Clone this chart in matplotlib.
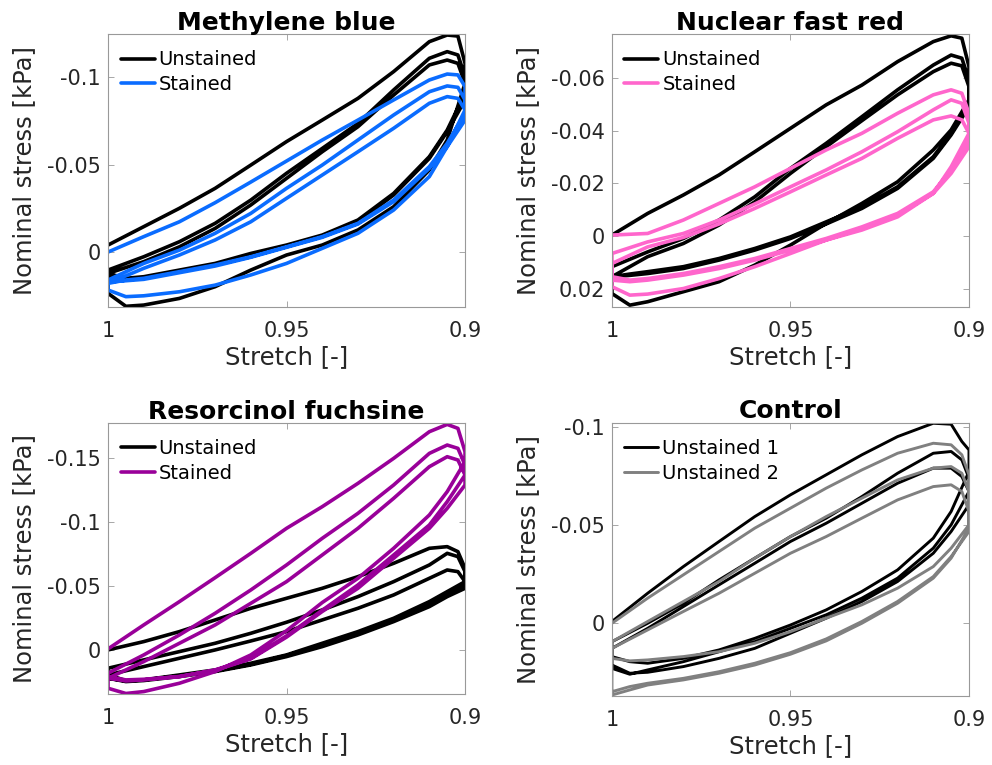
import numpy as np
import matplotlib
matplotlib.use("Agg")
import matplotlib.pyplot as plt

# stretch grid: loading goes 1 -> 0.9, unloading goes back 0.9 -> 1
XL = [1.000, 0.990, 0.980, 0.970, 0.960, 0.950, 0.940, 0.930, 0.920, 0.910, 0.905, 0.902, 0.900]
XU = [0.900, 0.905, 0.910, 0.920, 0.930, 0.940, 0.950, 0.960, 0.970, 0.980, 0.990, 0.995, 1.000]

# ---- Methylene blue (kPa), three cycles each
MB_UNST_LOAD = [
    [-0.004, -0.0145, -0.025, -0.0364, -0.0497, -0.0631, -0.0754, -0.0878, -0.1031, -0.1202, -0.124, -0.1234, -0.1078],
    [0.0103, 0.0027, -0.0059, -0.0164, -0.0297, -0.045, -0.0592, -0.0735, -0.0926, -0.1107, -0.1145, -0.1126, -0.1002],
    [0.0122, 0.0055, -0.003, -0.0135, -0.0269, -0.0421, -0.0573, -0.0716, -0.0897, -0.1069, -0.1097, -0.1078, -0.0964],
]
MB_UNST_UNLOAD = [
    [-0.0964, -0.064, -0.0469, -0.0259, -0.0126, -0.004, 0.0017, 0.0103, 0.0198, 0.0265, 0.0303, 0.031, 0.0236],
    [-0.0907, -0.0697, -0.0545, -0.0335, -0.0183, -0.0097, -0.004, 0.0008, 0.0065, 0.0103, 0.0141, 0.015, 0.0122],
    [-0.0869, -0.0688, -0.0535, -0.0326, -0.0173, -0.0088, -0.003, 0.0023, 0.0074, 0.0112, 0.015, 0.016, 0.0141],
]
MB_ST_LOAD = [
    [0.0, -0.0088, -0.0173, -0.0282, -0.040, -0.052, -0.064, -0.0754, -0.0869, -0.0983, -0.1017, -0.1012, -0.0945],
    [0.016, 0.0065, -0.0011, -0.0107, -0.0221, -0.0364, -0.0497, -0.064, -0.0783, -0.0916, -0.0949, -0.0941, -0.0869],
    [0.0179, 0.0093, 0.0017, -0.0069, -0.0173, -0.0307, -0.044, -0.0573, -0.0707, -0.085, -0.0888, -0.0878, -0.0812],
]
MB_ST_UNLOAD = [
    [-0.0812, -0.0602, -0.0431, -0.024, -0.0107, -0.0021, 0.0065, 0.0131, 0.0189, 0.0227, 0.025, 0.0255, 0.0217],
    [-0.0792, -0.0621, -0.0488, -0.0297, -0.0164, -0.0088, -0.003, 0.0027, 0.0074, 0.0112, 0.015, 0.016, 0.0179],
    [-0.0754, -0.0602, -0.0478, -0.0288, -0.016, -0.0084, -0.0027, 0.003, 0.008, 0.0118, 0.0156, 0.0164, 0.017],
]

# ---- Nuclear fast red
NFR_UNST_LOAD = [
    [-0.0004, -0.0086, -0.0156, -0.0232, -0.032, -0.0409, -0.0498, -0.0573, -0.0662, -0.0738, -0.076, -0.0751, -0.0643],
    [0.0116, 0.006, 0.0009, -0.0061, -0.0149, -0.0257, -0.0352, -0.0453, -0.0555, -0.0649, -0.0687, -0.0675, -0.0592],
    [0.0154, 0.0078, 0.0028, -0.0042, -0.013, -0.0238, -0.0339, -0.0438, -0.0536, -0.0624, -0.0656, -0.0646, -0.0567],
]
NFR_UNST_UNLOAD = [
    [-0.0517, -0.0403, -0.0327, -0.0206, -0.0124, -0.0048, 0.0034, 0.011, 0.0173, 0.0211, 0.0249, 0.0262, 0.0218],
    [-0.0504, -0.039, -0.0301, -0.0187, -0.0111, -0.0054, 0.0003, 0.0047, 0.0085, 0.0116, 0.0135, 0.0144, 0.0154],
    [-0.0491, -0.0384, -0.0295, -0.0181, -0.0105, -0.0046, 0.0009, 0.0053, 0.0091, 0.0123, 0.0142, 0.0149, 0.0154],
]
NFR_ST_LOAD = [
    [-0.0004, -0.001, -0.0061, -0.0124, -0.0187, -0.0257, -0.0327, -0.039, -0.0466, -0.0536, -0.0555, -0.0542, -0.0466],
    [0.0066, 0.0022, -0.001, -0.0061, -0.0122, -0.0187, -0.0251, -0.032, -0.0396, -0.0479, -0.0517, -0.0504, -0.0428],
    [0.0104, 0.0041, 0.0005, -0.0046, -0.0105, -0.0168, -0.0232, -0.0295, -0.0371, -0.0441, -0.0456, -0.0441, -0.039],
]
NFR_ST_UNLOAD = [
    [-0.039, -0.0263, -0.0162, -0.0073, -0.0023, 0.0015, 0.0066, 0.0116, 0.0161, 0.0199, 0.022, 0.0224, 0.0192],
    [-0.0365, -0.0251, -0.0168, -0.0086, -0.0035, 0.0009, 0.0047, 0.0085, 0.0116, 0.0142, 0.0161, 0.0167, 0.0154],
    [-0.0339, -0.0238, -0.0162, -0.008, -0.0029, 0.0015, 0.0053, 0.0091, 0.0123, 0.0148, 0.0167, 0.0173, 0.0167],
]

# ---- Resorcinol fuchsine
RF_UNST_LOAD = [
    [0.0, -0.0065, -0.0143, -0.0234, -0.0325, -0.0403, -0.0481, -0.0572, -0.0676, -0.0793, -0.0806, -0.0767, -0.0637],
    [0.0143, 0.0078, 0.0013, -0.0052, -0.013, -0.0216, -0.0312, -0.0416, -0.0533, -0.0663, -0.0754, -0.0728, -0.0611],
    [0.0195, 0.013, 0.0065, 0.0, -0.007, -0.0143, -0.0234, -0.0325, -0.0429, -0.0559, -0.0624, -0.0611, -0.0533],
]
RF_UNST_UNLOAD = [
    [-0.0533, -0.0455, -0.0377, -0.0247, -0.0143, -0.0052, 0.0039, 0.0104, 0.0156, 0.0195, 0.0234, 0.0242, 0.0221],
    [-0.0507, -0.0429, -0.0351, -0.0234, -0.013, -0.0039, 0.0044, 0.0112, 0.0164, 0.0203, 0.0234, 0.0239, 0.0195],
    [-0.0481, -0.0416, -0.0338, -0.0221, -0.0117, -0.0026, 0.0052, 0.0117, 0.0169, 0.0208, 0.0239, 0.0247, 0.0221],
]
RF_ST_LOAD = [
    [-0.0008, -0.0195, -0.0377, -0.0564, -0.0754, -0.0949, -0.1118, -0.13, -0.1495, -0.1703, -0.176, -0.1729, -0.1547],
    [0.0182, 0.0039, -0.0117, -0.0286, -0.0468, -0.0663, -0.0871, -0.1066, -0.1287, -0.1534, -0.1599, -0.1573, -0.1443],
    [0.0221, 0.0091, -0.0052, -0.0195, -0.0364, -0.0533, -0.0741, -0.0949, -0.1183, -0.143, -0.1508, -0.1482, -0.1365],
]
RF_ST_UNLOAD = [
    [-0.1469, -0.1235, -0.1053, -0.0793, -0.0559, -0.037, -0.015, 0.0039, 0.0169, 0.026, 0.0325, 0.034, 0.0299],
    [-0.1365, -0.1157, -0.0975, -0.0741, -0.0507, -0.031, -0.011, 0.0065, 0.0156, 0.0208, 0.0234, 0.0242, 0.0221],
    [-0.1287, -0.1105, -0.0949, -0.0715, -0.0481, -0.030, -0.010, 0.007, 0.0159, 0.0208, 0.0229, 0.0234, 0.0208],
]

# ---- Control (two unstained samples)
CT_U1_LOAD = [
    [-0.0009, -0.0153, -0.0289, -0.0417, -0.0544, -0.0655, -0.0757, -0.0859, -0.0952, -0.102, -0.1015, -0.0927, -0.0884],
    [0.0094, 0.0, -0.0102, -0.0221, -0.0332, -0.0442, -0.0536, -0.0646, -0.0765, -0.0867, -0.0876, -0.0833, -0.074],
    [0.0128, 0.0026, -0.0085, -0.0196, -0.0306, -0.0417, -0.051, -0.0612, -0.0714, -0.0791, -0.0791, -0.0748, -0.0672],
]
CT_U1_UNLOAD = [
    [-0.0774, -0.057, -0.0434, -0.0272, -0.0162, -0.0068, 0.0009, 0.0077, 0.0136, 0.0179, 0.0204, 0.0196, 0.017],
    [-0.0672, -0.0502, -0.0383, -0.023, -0.0128, -0.0043, 0.0026, 0.0094, 0.0145, 0.0196, 0.0238, 0.026, 0.023],
    [-0.0604, -0.0468, -0.0357, -0.0213, -0.0111, -0.0026, 0.0051, 0.0128, 0.0179, 0.0221, 0.025, 0.0255, 0.0213],
]
CT_U2_LOAD = [
    [0.0, -0.0128, -0.0247, -0.0366, -0.0485, -0.0587, -0.0689, -0.0782, -0.0867, -0.0918, -0.091, -0.0859, -0.0757],
    [0.0094, -0.0009, -0.0111, -0.0213, -0.0332, -0.0442, -0.0544, -0.0638, -0.0731, -0.0791, -0.0799, -0.0765, -0.0672],
    [0.0128, 0.0034, -0.006, -0.0153, -0.0255, -0.0357, -0.0442, -0.0536, -0.0629, -0.0697, -0.0706, -0.0672, -0.057],
]
CT_U2_UNLOAD = [
    [-0.0485, -0.0332, -0.023, -0.0102, 0.0, 0.009, 0.0158, 0.0213, 0.0255, 0.0289, 0.0315, 0.034, 0.0366],
    [-0.0502, -0.0383, -0.0289, -0.0179, -0.0094, -0.0026, 0.0043, 0.0102, 0.0145, 0.017, 0.0187, 0.0192, 0.0179],
    [-0.0468, -0.034, -0.0238, -0.0111, -0.0009, 0.008, 0.015, 0.0204, 0.0247, 0.0281, 0.0306, 0.0323, 0.0349],
]

PANELS = [
    ("Methylene blue", [0.1089, 0.5987, 0.3599, 0.3569], (0.0314, -0.1246),
     [-0.1, -0.05, 0], ["-0.1", "-0.05", "0"],
     [("Unstained", "black", MB_UNST_LOAD, MB_UNST_UNLOAD),
      ("Stained", "#0a6cff", MB_ST_LOAD, MB_ST_UNLOAD)], 2.6),
    ("Nuclear fast red", [0.6169, 0.5987, 0.3599, 0.3569], (0.0269, -0.0767),
     [-0.06, -0.04, -0.02, 0, 0.02], ["-0.06", "-0.04", "-0.02", "0", "0.02"],
     [("Unstained", "black", NFR_UNST_LOAD, NFR_UNST_UNLOAD),
      ("Stained", "#ff66cc", NFR_ST_LOAD, NFR_ST_UNLOAD)], 2.6),
    ("Resorcinol fuchsine", [0.1089, 0.0928, 0.3599, 0.3546], (0.0344, -0.1773),
     [-0.15, -0.1, -0.05, 0], ["-0.15", "-0.1", "-0.05", "0"],
     [("Unstained", "black", RF_UNST_LOAD, RF_UNST_UNLOAD),
      ("Stained", "#990099", RF_ST_LOAD, RF_ST_UNLOAD)], 2.6),
    ("Control", [0.6169, 0.0902, 0.3599, 0.3573], (0.0371, -0.1023),
     [-0.1, -0.05, 0], ["-0.1", "-0.05", "0"],
     [("Unstained 1", "black", CT_U1_LOAD, CT_U1_UNLOAD),
      ("Unstained 2", "#808080", CT_U2_LOAD, CT_U2_UNLOAD)], 2.1),
]

TXT = "#262626"
fig = plt.figure(figsize=(9.92, 7.65), dpi=100)

for title, pos, ylim, yt, ytl, series, lw in PANELS:
    ax = fig.add_axes(pos)
    for label, color, loads, unloads in series:
        xs, ys = [], []
        for ld, ul in zip(loads, unloads):
            xs += XL + XU
            ys += ld + ul
        ax.plot(xs, ys, color=color, lw=lw, label=label,
                solid_joinstyle="round", solid_capstyle="round")
    ax.set_xlim(1.0, 0.9)
    ax.set_ylim(*ylim)
    ax.set_xticks([1, 0.95, 0.9])
    ax.set_xticklabels(["1", "0.95", "0.9"])
    ax.set_yticks(yt)
    ax.set_yticklabels(ytl)
    ax.tick_params(direction="in", length=4, width=0.6, colors="#999999",
                   labelcolor=TXT, labelsize=15, top=True, right=True)
    ax.tick_params(axis="x", pad=10)
    ax.tick_params(axis="y", pad=5)
    for s in ax.spines.values():
        s.set_color("#999999"); s.set_linewidth(0.8)
    ax.set_xlabel("Stretch [-]", fontsize=17.5, color=TXT, labelpad=3)
    ax.set_ylabel("Nominal stress [kPa]", fontsize=17.5, color=TXT, labelpad=8)
    ax.set_title(title, fontsize=18, fontweight="bold", pad=3)
    ax.legend(loc="upper left", bbox_to_anchor=(0.035, 0.94), frameon=False,
              fontsize=14, handlelength=1.75, handletextpad=0.2,
              labelspacing=0.3, borderpad=0, borderaxespad=0)

fig.savefig("out.png", dpi=100)
